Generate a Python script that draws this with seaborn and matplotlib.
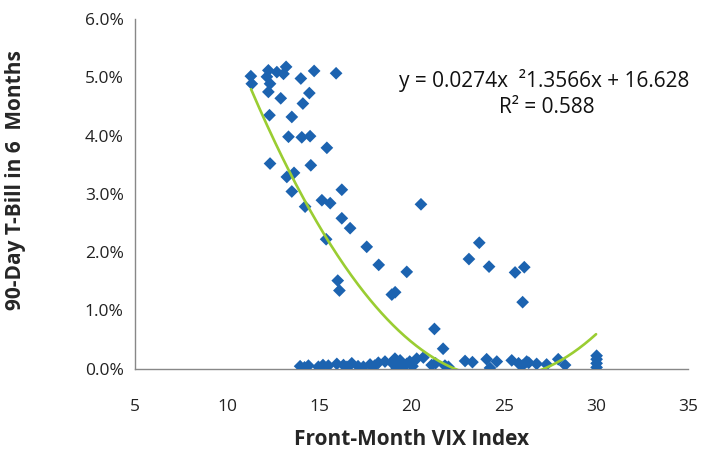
"""
Front-month VIX vs 90-day T-bill yield six months later, with quadratic trendline.
"""
import numpy as np
import pandas as pd
import matplotlib
matplotlib.use('Agg')
import matplotlib.pyplot as plt
import seaborn as sns
from matplotlib.ticker import PercentFormatter

# upper scatter (VIX, T-bill %)
vix_hi = [11.29, 11.34, 12.24, 12.16, 12.70, 13.20, 13.06, 12.33, 12.24, 14.00,
          14.72, 15.91, 12.91, 14.46, 14.11, 12.30, 13.51, 13.33, 14.05, 14.50,
          15.41, 12.33, 14.54, 13.24, 13.63, 13.51, 15.14, 15.59, 16.22, 14.23,
          16.22, 16.67, 20.51, 15.37, 17.57, 23.67, 23.11, 24.20, 25.61, 26.11,
          18.22, 19.74, 16.00, 16.09, 18.93, 19.11, 26.02, 21.24, 21.71]
bill_hi = [5.02, 4.89, 5.12, 5.01, 5.09, 5.18, 5.06, 4.89, 4.75, 4.98,
           5.11, 5.07, 4.64, 4.73, 4.55, 4.35, 4.32, 3.98, 3.97, 3.99,
           3.79, 3.52, 3.49, 3.29, 3.36, 3.04, 2.89, 2.84, 3.07, 2.78,
           2.58, 2.41, 2.82, 2.22, 2.09, 2.16, 1.88, 1.75, 1.65, 1.74,
           1.78, 1.66, 1.51, 1.34, 1.27, 1.31, 1.14, 0.68, 0.34]

# near-zero cluster
vix_lo = [13.96, 14.41, 14.95, 15.49, 15.95, 16.31, 16.76, 17.39, 17.75, 18.20,
          18.56, 18.93, 19.38, 19.74, 20.28, 20.64, 21.09, 21.81, 22.90, 24.07,
          24.62, 25.43, 26.24, 26.78, 27.32, 27.95, 28.32, 30.03, 30.03, 30.03,
          30.03, 16.50, 18.00, 19.10, 19.50, 19.90, 20.05, 21.30, 23.30, 24.25,
          25.80, 26.00, 26.35, 14.20, 15.20, 17.10, 19.20, 22.00]
bill_lo = [0.04, 0.05, 0.03, 0.05, 0.08, 0.06, 0.09, 0.03, 0.07, 0.10,
           0.12, 0.10, 0.14, 0.08, 0.17, 0.19, 0.06, 0.05, 0.13, 0.16,
           0.12, 0.14, 0.12, 0.08, 0.07, 0.16, 0.06, 0.02, 0.09, 0.16,
           0.22, 0.03, 0.05, 0.17, 0.02, 0.12, 0.04, 0.09, 0.11, 0.01,
           0.09, 0.05, 0.10, 0.02, 0.06, 0.04, 0.00, 0.03]

# trendline coefficients as printed on chart (y in percent)
coef = [0.0274, -1.3566, 16.628]
trend_x = np.linspace(11.3, 30.0, 300)

df = pd.DataFrame({'vix': vix_hi + vix_lo, 'bill': bill_hi + bill_lo})
trend = pd.DataFrame({'vix': trend_x, 'bill': np.polyval(coef, trend_x)})

sns.set_style('white')
plt.rcParams['font.family'] = ['Open Sans', 'DejaVu Sans']

fig, ax = plt.subplots(figsize=(7.17, 4.55), dpi=100)
fig.subplots_adjust(left=0.188, right=0.96, top=0.958, bottom=0.19)

sns.scatterplot(data=df, x='vix', y='bill', marker='D', s=42, color='#1c63b0',
                edgecolor='none', ax=ax, zorder=3)
sns.lineplot(data=trend, x='vix', y='bill', color='#9acd32', linewidth=1.9,
             ax=ax, zorder=4)

ax.set_xlim(5, 35)
ax.set_ylim(0, 6)
ax.set_xticks(range(5, 36, 5))
ax.set_yticks(range(0, 7))
ax.yaxis.set_major_formatter(PercentFormatter(decimals=1))

for side in ['top', 'right']:
    ax.spines[side].set_visible(False)
for side in ['left', 'bottom']:
    ax.spines[side].set_color('#888888')
    ax.spines[side].set_linewidth(1.0)
ax.tick_params(axis='both', which='major', direction='out', length=6,
               width=1.0, color='#888888', labelsize=12.5, labelcolor='#222222')
ax.tick_params(axis='x', pad=16)
ax.tick_params(axis='y', pad=2)

ax.set_xlabel('Front-Month VIX Index', fontsize=15, fontweight='bold', labelpad=10)
ax.set_ylabel('90-Day T-Bill in 6  Months', fontsize=15, fontweight='bold')
ax.yaxis.set_label_coords(-0.196, 0.54)

ax.text(27.2, 4.95, 'y = 0.0274x  \u00b21.3566x + 16.628', fontsize=15,
        ha='center', va='center', color='#111111')
ax.text(27.35, 4.48, 'R\u00b2 = 0.588', fontsize=15, ha='center', va='center',
        color='#111111')

plt.savefig('out.png', dpi=100)
plt.close()
